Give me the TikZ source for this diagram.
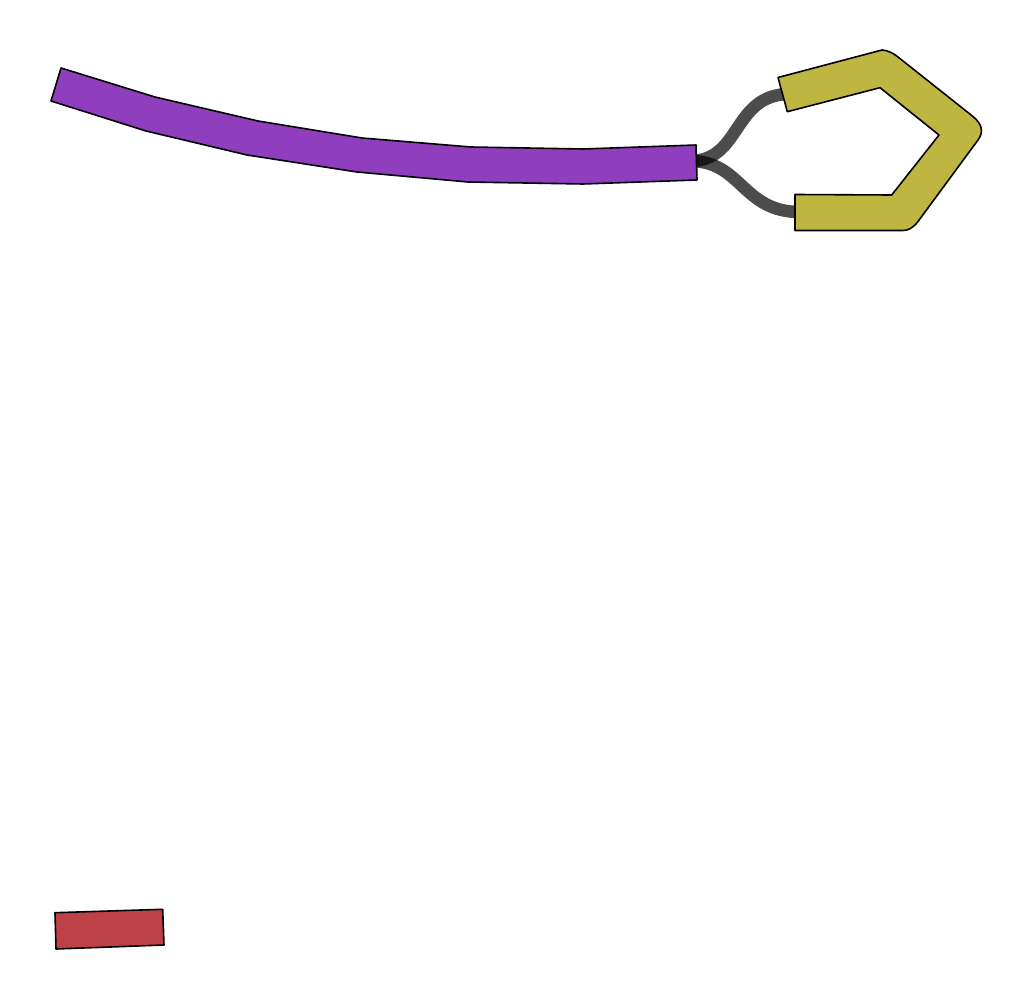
\documentclass[tikz,border=0pt]{standalone}
\begin{document}
\begin{tikzpicture}[x=1pt,y=-1pt,
  contig/.style={draw=black,line width=1.6pt,line join=round},
  link/.style={draw=black,opacity=0.7,line width=12.5pt,line cap=butt}]
\useasboundingbox (0,0) rectangle (1033,1000);
\definecolor{cpurple}{RGB}{143,62,189}
\definecolor{cyellow}{RGB}{190,182,64}
\definecolor{cred}{RGB}{190,65,72}
% connector ends
\coordinate (pend) at (690,161);
\coordinate (ytop) at (790,94);
\coordinate (ybot) at (800,212);
% connectors
\draw[link] (pend) .. controls (742,161) and (732,94) .. (ytop);
\draw[link] (pend) .. controls (742,161) and (742,212) .. (ybot);
% purple contig
\path[contig,fill=cpurple] (61,68) -- (155,97) -- (258,121) -- (362,138) -- (471,147) -- (583,149) -- (696,145)
  -- (697,180) -- (583,184) -- (468,182) -- (357,172) -- (247,155) -- (146,131) -- (51,101) -- cycle;
% yellow contig
\path[contig,fill=cyellow] (778,77.5) -- (882,50) .. controls (888,50.5) and (893,53) .. (898,57)
  -- (973,116.5) .. controls (982,124) and (984,132) .. (978,140)
  -- (918,221.5) .. controls (913,228) and (908,230.5) .. (903,230.5)
  -- (795,230.5) -- (795,194.5) -- (891.7,195) -- (939,135) -- (880,87.7) -- (787.3,111.7) -- cycle;
% red contig
\path[contig,fill=cred] (55,912.7) -- (162.7,909.3) -- (164,945) -- (56,949) -- cycle;
\end{tikzpicture}
\end{document}
